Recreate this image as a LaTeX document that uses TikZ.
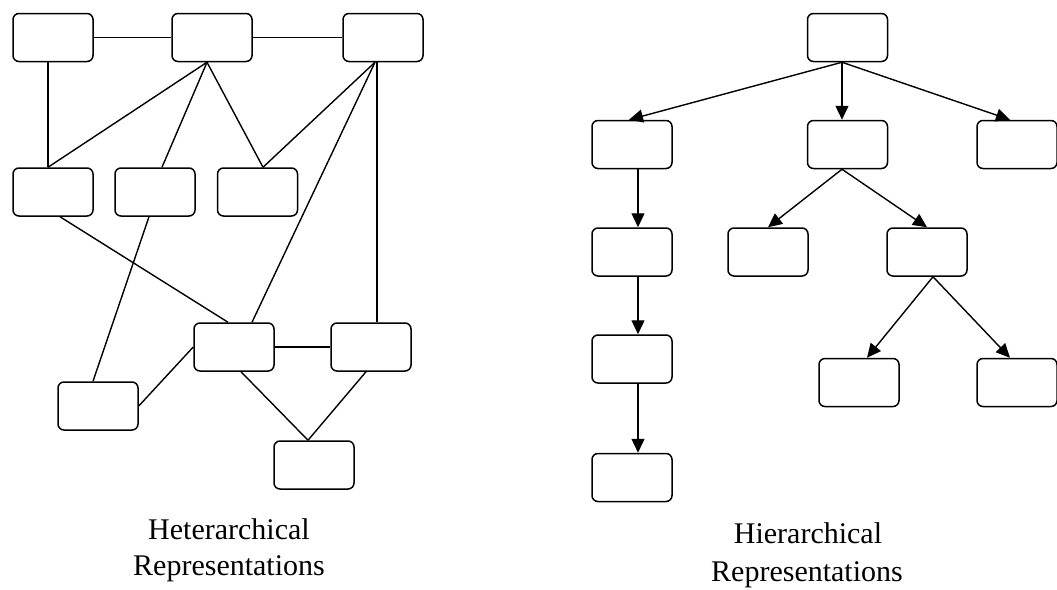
\documentclass[tikz,border=0pt]{standalone}
\usepackage{fontspec}
\setmainfont{Liberation Serif}
\usetikzlibrary{arrows.meta}
\begin{document}
\begin{tikzpicture}[x=1pt,y=-1pt,
  box/.style={draw, line width=1.5pt, rounded corners=6pt,
    minimum width=80pt, minimum height=48pt, inner sep=0pt},
  link/.style={line width=1.4pt},
  arc/.style={line width=1.4pt, -{Triangle[length=14pt,width=13pt]}},
  caption/.style={anchor=base, font=\fontsize{30}{36}\selectfont, inner sep=0pt}]
\useasboundingbox (0,0) rectangle (1057,589);

% heterarchical network
\node[box] (A) at (53,37.5) {};
\node[box] (B) at (212,37.5) {};
\node[box] (C) at (383,37.5) {};
\node[box] (D) at (53,192) {};
\node[box] (E) at (155,192) {};
\node[box] (F) at (257.5,192) {};
\node[box] (G) at (234,347) {};
\node[box] (H) at (371,347) {};
\node[box] (I) at (98,406) {};
\node[box] (J) at (314,465) {};

\draw[link] (A) -- (B);
\draw[link] (B) -- (C);
\draw[link] ([xshift=-5pt]A.south) -- ([xshift=-5pt]D.north);
\draw[link] ([xshift=-5pt]B.south) -- ([xshift=-5pt]D.north);
\draw[link] ([xshift=-5pt]B.south) -- ([xshift=7pt]E.north);
\draw[link] ([xshift=-5pt]B.south) -- ([xshift=5.5pt]F.north);
\draw[link] ([xshift=-8pt]C.south) -- ([xshift=5.5pt]F.north);
\draw[link] ([xshift=-8pt]C.south) -- ([xshift=18pt]G.north);
\draw[link] ([xshift=-6pt]C.south) -- ([xshift=6pt]H.north);
\draw[link] ([xshift=7pt]D.south) -- ([xshift=-6pt]G.north);
\draw[link] ([xshift=-6pt]E.south) -- ([xshift=-5pt]I.north);
\draw[link] (I.east) -- (G.west);
\draw[link] (G) -- (H);
\draw[link] ([xshift=7pt]G.south) -- ([xshift=-6pt]J.north);
\draw[link] ([xshift=-5pt]H.south) -- ([xshift=-6pt]J.north);

% hierarchical tree
\node[box] (R) at (847.5,37.5) {};
\node[box] (R1) at (632,144.5) {};
\node[box] (R2) at (847.5,144.5) {};
\node[box] (R3) at (1017,144.5) {};
\node[box] (L1) at (632,252) {};
\node[box] (L2) at (632,359) {};
\node[box] (L3) at (632,477.5) {};
\node[box] (M1) at (768,252) {};
\node[box] (M2) at (927,252) {};
\node[box] (N1) at (859,382.5) {};
\node[box] (N2) at (1017,382.5) {};

\draw[arc] ([xshift=-5.5pt]R.south) -- ([xshift=-3pt]R1.north);
\draw[arc] ([xshift=-5.5pt]R.south) -- ([xshift=-5.5pt]R2.north);
\draw[arc] ([xshift=-5.5pt]R.south) -- ([xshift=-7pt]R3.north);
\draw[arc] ([xshift=6pt]R1.south) -- ([xshift=6pt]L1.north);
\draw[arc] ([xshift=6pt]L1.south) -- ([xshift=6pt]L2.north);
\draw[arc] ([xshift=6pt]L2.south) -- ([xshift=6pt]L3.north);
\draw[arc] ([xshift=-5.5pt]R2.south) -- (M1.north);
\draw[arc] ([xshift=-5.5pt]R2.south) -- (M2.north);
\draw[arc] ([xshift=6pt]M2.south) -- ([xshift=8pt]N1.north);
\draw[arc] ([xshift=6pt]M2.south) -- ([xshift=-7pt]N2.north);

% captions
\node[caption] (het1) at (229,539) {Heterarchical};
\node[caption] (het2) at (229,575) {Representations};
\node[caption] (hie1) at (808,543) {Hierarchical};
\node[caption] (hie2) at (807,581) {Representations};
\end{tikzpicture}
\end{document}
